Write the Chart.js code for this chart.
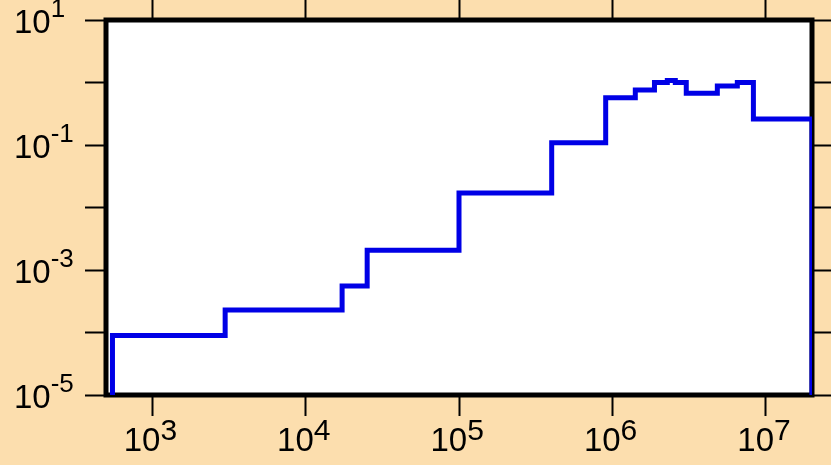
<!DOCTYPE html>
<html>
<head>
<meta charset="utf-8">
<script src="https://cdn.jsdelivr.net/npm/chart.js@4/dist/chart.umd.min.js"></script>
<style>
  html, body { margin: 0; padding: 0; background: #fcdeae; }
  canvas { display: block; }
</style>
</head>
<body>
<canvas id="chart" width="831" height="465"></canvas>
<script>
// histogram: bin edges along x, one level per bin
var binEdges = [551, 2990, 17300, 25200, 1.0e5, 4.02e5, 9.04e5, 1.41e6, 1.88e6, 2.28e6, 2.57e6, 3.03e6, 4.83e6, 6.52e6, 8.3e6, 2.0e7];
var binValues = [8.97e-5, 2.3e-4, 5.53e-4, 2.07e-3, 0.0171, 0.109, 0.572, 0.76, 1.0, 1.08, 1.0, 0.67, 0.88, 1.0, 0.26];

var xRange = [500, 2.0e7];
var yRange = [1e-5, 10];

var xTicks = [1e3, 1e4, 1e5, 1e6, 1e7];
var xTickExp = ['3', '4', '5', '6', '7'];
var yTicks = [1e-5, 1e-4, 1e-3, 1e-2, 1e-1, 1, 10];
var yLabelTicks = [10, 1e-1, 1e-3, 1e-5];
var yLabelExp = ['1', '-1', '-3', '-5'];

var FONT = '"Liberation Sans", Arial, sans-serif';

// outline of the histogram, closed down to the bottom of the axis at both ends
var outline = [{x: binEdges[0], y: yRange[0]}];
for (var i = 0; i < binValues.length; i++) {
    outline.push({x: binEdges[i], y: binValues[i]});
    outline.push({x: binEdges[i + 1], y: binValues[i]});
}
outline.push({x: binEdges[binEdges.length - 1], y: yRange[0]});

var onlyDecades = function (list) {
    return function (scale) {
        scale.ticks = list.map(function (v) { return {value: v}; });
    };
};

var logAxis = function (pos, range, ticks, len) {
    return {
        type: 'logarithmic',
        position: pos,
        min: range[0],
        max: range[1],
        afterBuildTicks: onlyDecades(ticks),
        ticks: {display: false},
        border: {display: false},
        grid: {
            drawOnChartArea: false,
            drawTicks: true,
            tickLength: len,
            tickWidth: 2,
            tickColor: '#000',
            color: '#000'
        }
    };
};

var frame = {
    id: 'frame',
    beforeDraw: function (chart) {
        var a = chart.chartArea, ctx = chart.ctx;
        ctx.save();
        ctx.fillStyle = '#fff';
        ctx.fillRect(a.left, a.top, a.right - a.left, a.bottom - a.top);
        ctx.restore();
    },
    beforeDatasetsDraw: function (chart) {
        var a = chart.chartArea, ctx = chart.ctx;
        ctx.save();
        ctx.strokeStyle = '#000';
        ctx.lineWidth = 5;
        ctx.lineJoin = 'miter';
        ctx.strokeRect(a.left, a.top, a.right - a.left, a.bottom - a.top);
        ctx.restore();
    }
};

// "10" with a raised exponent, placed from the scales
var powerLabels = {
    id: 'powerLabels',
    afterDraw: function (chart) {
        var ctx = chart.ctx;
        var xs = chart.scales.x, ys = chart.scales.y;
        ctx.save();
        ctx.fillStyle = '#000';
        ctx.textAlign = 'left';
        ctx.textBaseline = 'alphabetic';

        xTicks.forEach(function (v, i) {
            var px = xs.getPixelForValue(v);
            ctx.font = '33px ' + FONT;
            var w = ctx.measureText('10').width;
            var x0 = px - 28.5;
            ctx.fillText('10', x0, xs.bottom + 35);
            ctx.font = '30px ' + FONT;
            ctx.fillText(xTickExp[i], x0 + w, xs.bottom + 24);
        });

        yLabelTicks.forEach(function (v, i) {
            var py = ys.getPixelForValue(v);
            var x0 = 14;
            ctx.font = '33px ' + FONT;
            var w = ctx.measureText('10').width;
            ctx.fillText('10', x0, py + 12.5);
            ctx.font = '26px ' + FONT;
            ctx.fillText(yLabelExp[i], x0 + w, py - 3.5);
        });
        ctx.restore();
    }
};

new Chart(document.getElementById('chart'), {
    type: 'line',
    data: {
        datasets: [{
            data: outline,
            borderColor: '#0000e6',
            borderWidth: 5,
            borderJoinStyle: 'miter',
            borderCapStyle: 'butt',
            pointRadius: 0,
            fill: false,
            tension: 0
        }]
    },
    options: {
        responsive: false,
        animation: false,
        devicePixelRatio: 1,
        layout: {padding: {left: 85, right: 0, top: 0, bottom: 49}},
        plugins: {legend: {display: false}, tooltip: {enabled: false}},
        scales: {
            x: logAxis('bottom', xRange, xTicks, 21),
            x2: logAxis('top', xRange, xTicks, 20),
            y: logAxis('left', yRange, yTicks, 21),
            y2: logAxis('right', yRange, yTicks, 19)
        }
    },
    plugins: [frame, powerLabels]
});
</script>
</body>
</html>
